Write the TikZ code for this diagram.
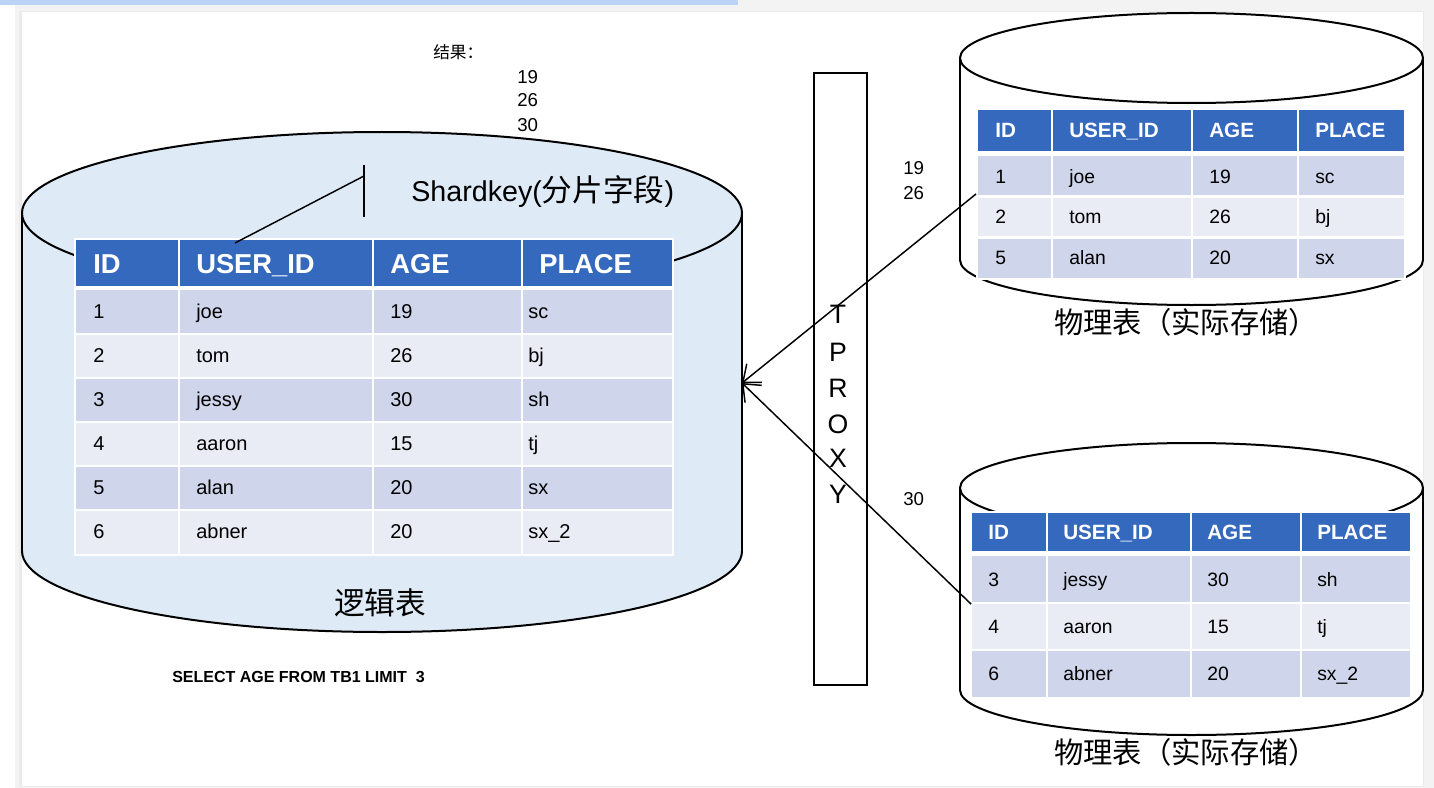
\documentclass[tikz,border=0pt]{standalone}
\usepackage{fontspec}
\setmainfont{Liberation Sans}
\newfontfamily\cjk{Noto Sans CJK SC}
\usetikzlibrary{arrows.meta}
\definecolor{hdr}{HTML}{3569BE}
\definecolor{rowA}{HTML}{CFD5EA}
\definecolor{rowB}{HTML}{E9EBF5}
\definecolor{cylblue}{HTML}{DEEBF7}
\definecolor{strip}{HTML}{BBD4F6}
\definecolor{bggray}{HTML}{F3F3F3}
\begin{document}
\begin{tikzpicture}[x=0.75pt,y=-0.75pt,
  outline/.style={draw=black,line width=1.5pt},
  grid/.style={draw=white,line width=2pt},
  cell/.style={anchor=west,inner sep=0,text depth=0pt},
  hL/.style={cell,text height=14.7pt,text=white,font=\fontsize{20.5}{24}\selectfont\bfseries},
  bL/.style={cell,text height=10.74pt,font=\fontsize{15}{18}\selectfont},
  hR/.style={cell,text height=11.1pt,text=white,font=\fontsize{15.5}{18}\selectfont\bfseries},
  bR/.style={cell,text height=10.4pt,font=\fontsize{14.5}{17}\selectfont},
  label/.style={inner sep=0},
  conn/.style={draw=black,line width=1.1pt,-{Straight Barb[length=11pt,width=18pt,line width=1.1pt]}}]
% background
\fill[bggray] (0,0) rectangle (1434,788);
\fill[white] (0,0) rectangle (15,788);
\fill[black!8] (19,11) rectangle (1424,787);
\fill[white] (22,12) rectangle (1423,786);
\fill[strip] (0,0) rectangle (738,5);
\useasboundingbox (0,0) rectangle (1434,788);

% ---------- left cylinder ----------
\fill[cylblue] (22,213) rectangle (742,551);
\fill[cylblue] (382,213) ellipse [x radius=360, y radius=81];
\fill[cylblue] (382,551) ellipse [x radius=360, y radius=81];
\draw[outline] (22,213) -- (22,551);
\draw[outline] (742,213) -- (742,551);
\draw[outline] (382,213) ellipse [x radius=360, y radius=81];
\begin{scope}
  \clip (10,551) rectangle (760,645);
  \draw[outline] (382,551) ellipse [x radius=360, y radius=81];
\end{scope}

% left table
\fill[white] (74,238) rectangle (674,556);
\fill[hdr] (76,240) rectangle (672,286);
\foreach \i/\c in {0/rowA,1/rowB,2/rowA,3/rowB,4/rowA,5/rowB}
  \fill[\c] (76,{290+44*\i}) rectangle (672,{334+44*\i});
\foreach \x in {179,373,522} \draw[grid] (\x,238) -- (\x,556);
\foreach \i in {1,...,5} \draw[grid] (76,{290+44*\i}) -- (672,{290+44*\i});
\node[hL] (Lh1) at (93,264) {ID};
\node[hL] (Lh2) at (196,264) {USER\_ID};
\node[hL] (Lh3) at (390,264) {AGE};
\node[hL] (Lh4) at (539,264) {PLACE};
\foreach \i/\a/\b/\c/\d in {0/1/joe/19/sc,1/2/tom/26/bj,2/3/jessy/30/sh,3/4/aaron/15/tj,4/5/alan/20/sx,5/6/abner/20/sx\_2}{
  \node[bL] (L\i a) at (93,{311+44*\i}) {\a};
  \node[bL] (L\i b) at (196,{311+44*\i}) {\b};
  \node[bL] (L\i c) at (390,{311+44*\i}) {\c};
  \node[bL] (L\i d) at (528,{311+44*\i}) {\d};
}
% shardkey marker
\coordinate (skcol) at (235,243);
\coordinate (skbar) at (364,176);
\draw[line width=1.1pt] (skcol) -- (skbar);
\draw[line width=1.1pt] (364,165) -- (364,217);
\node[label,anchor=west,font=\fontsize{21.5}{24}\selectfont] (shard) at (411,191) {Shardkey(\cjk\fontsize{23}{24}\selectfont 分片字段\normalfont\fontsize{21.5}{24}\selectfont)};
\node[label,font=\cjk\fontsize{23}{26}\selectfont] (logic) at (380,603) {逻辑表};
\node[label,anchor=west,font=\fontsize{12}{14}\selectfont\bfseries] (sql) at (172,677) {SELECT AGE FROM TB1 LIMIT\ \ 3};

% result
\node[label,anchor=west,font=\cjk\fontsize{12.5}{14}\selectfont] (res) at (433,52) {结果：};
\node[label,anchor=west,font=\fontsize{14}{16}\selectfont] (r1) at (517,77) {19};
\node[label,anchor=west,font=\fontsize{14}{16}\selectfont] (r2) at (517,100.5) {26};
\node[label,anchor=west,font=\fontsize{14}{16}\selectfont] (r3) at (517,125) {30};

% proxy
\node[draw=black,line width=1.4pt,minimum width=53*0.75pt,minimum height=612*0.75pt,inner sep=0] (proxy) at (840.5,379) {};
\foreach \l/\y in {T/314,P/352,R/388,O/424,X/458,Y/494}
  \node[label,font=\fontsize{20}{22}\selectfont] (px\l) at (838,\y) {\l};

% ---------- right top cylinder ----------
\fill[white] (960,58) rectangle (1423,260);
\fill[white] (1191.5,260) ellipse [x radius=231.5, y radius=45];
\draw[outline] (960,58) -- (960,260);
\draw[outline] (1423,58) -- (1423,260);
\draw[outline] (1191.5,58) ellipse [x radius=231.5, y radius=45];
\begin{scope}
  \clip (950,260) rectangle (1434,310);
  \draw[outline] (1191.5,260) ellipse [x radius=231.5, y radius=45];
\end{scope}
\fill[white] (976,108) rectangle (1406,280);
\fill[hdr] (978,110) rectangle (1404,151);
\foreach \i/\c in {0/rowA,1/rowB,2/rowA}
  \fill[\c] (978,{156+40.67*\i}) rectangle (1404,{196.67+40.67*\i});
\foreach \x in {1052,1192,1298} \draw[grid] (\x,108) -- (\x,280);
\foreach \i in {1,2} \draw[grid] (978,{156+40.67*\i}) -- (1404,{156+40.67*\i});
\node[hR] (Ah1) at (995,130.5) {ID};
\node[hR] (Ah2) at (1069,130.5) {USER\_ID};
\node[hR] (Ah3) at (1209,130.5) {AGE};
\node[hR] (Ah4) at (1315,130.5) {PLACE};
\foreach \i/\a/\b/\c/\d in {0/1/joe/19/sc,1/2/tom/26/bj,2/5/alan/20/sx}{
  \node[bR] (A\i a) at (995,{176.3+40.67*\i}) {\a};
  \node[bR] (A\i b) at (1069,{176.3+40.67*\i}) {\b};
  \node[bR] (A\i c) at (1209,{176.3+40.67*\i}) {\c};
  \node[bR] (A\i d) at (1315,{176.3+40.67*\i}) {\d};
}
\node[label,font=\cjk\fontsize{22}{24}\selectfont] (phys1) at (1186,322) {物理表（实际存储）};

% ---------- right bottom cylinder ----------
\fill[white] (960,488) rectangle (1423,690);
\fill[white] (1191.5,690) ellipse [x radius=231.5, y radius=45];
\draw[outline] (960,488) -- (960,690);
\draw[outline] (1423,488) -- (1423,690);
\draw[outline] (1191.5,488) ellipse [x radius=231.5, y radius=45];
\begin{scope}
  \clip (950,690) rectangle (1434,740);
  \draw[outline] (1191.5,690) ellipse [x radius=231.5, y radius=45];
\end{scope}
\fill[white] (970,511) rectangle (1412,699);
\fill[hdr] (972,513) rectangle (1410,551);
\foreach \i/\c in {0/rowA,1/rowB,2/rowA}
  \fill[\c] (972,{556+47*\i}) rectangle (1410,{603+47*\i});
\foreach \x in {1047,1191,1301} \draw[grid] (\x,511) -- (\x,699);
\foreach \i in {1,2} \draw[grid] (972,{556+47*\i}) -- (1410,{556+47*\i});
\node[hR] (Bh1) at (988,532) {ID};
\node[hR] (Bh2) at (1063,532) {USER\_ID};
\node[hR] (Bh3) at (1207,532) {AGE};
\node[hR] (Bh4) at (1317,532) {PLACE};
\foreach \i/\a/\b/\c/\d in {0/3/jessy/30/sh,1/4/aaron/15/tj,2/6/abner/20/sx\_2}{
  \node[bR] (B\i a) at (988,{579.5+47*\i}) {\a};
  \node[bR] (B\i b) at (1063,{579.5+47*\i}) {\b};
  \node[bR] (B\i c) at (1207,{579.5+47*\i}) {\c};
  \node[bR] (B\i d) at (1317,{579.5+47*\i}) {\d};
}
\node[label,font=\cjk\fontsize{22}{24}\selectfont] (phys2) at (1186,752) {物理表（实际存储）};

% side labels
\node[label,anchor=west,font=\fontsize{14}{16}\selectfont] (s1) at (903,168) {19};
\node[label,anchor=west,font=\fontsize{14}{16}\selectfont] (s2) at (903,193) {26};
\node[label,anchor=west,font=\fontsize{14}{16}\selectfont] (s3) at (903,499) {30};

% connectors
\coordinate (srcA) at (976,194);
\coordinate (srcB) at (971,604);
\coordinate (tip) at (742,383);
\draw[conn] (srcA) -- (tip);
\draw[conn] (srcB) -- (tip);
\end{tikzpicture}
\end{document}
